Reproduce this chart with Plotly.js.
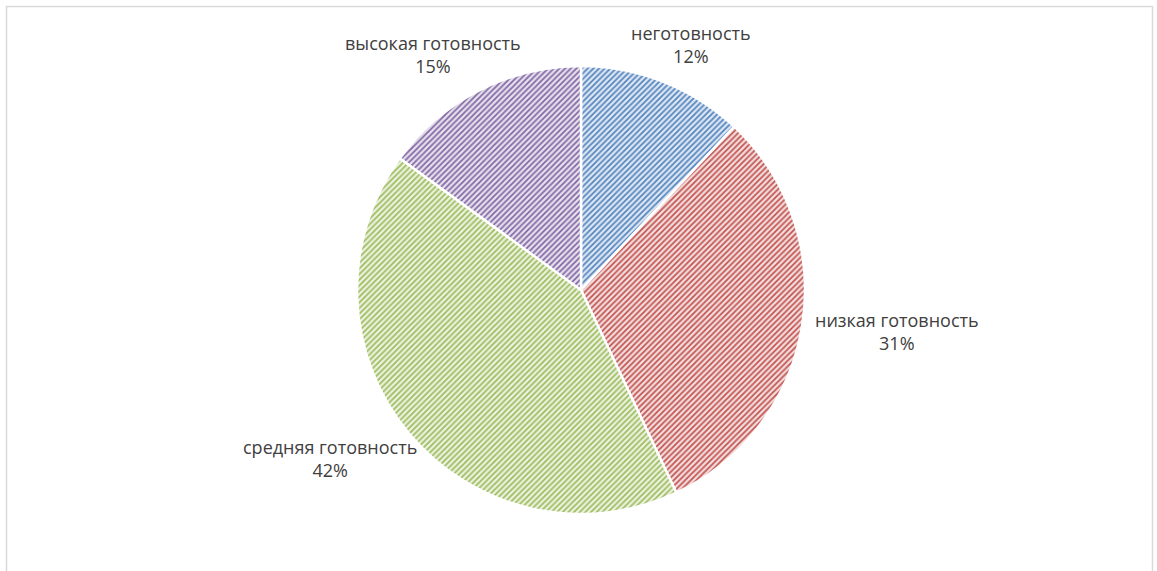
<!DOCTYPE html>
<html>
<head>
<meta charset="utf-8">
<script src="https://cdn.plot.ly/plotly-3.0.1.min.js"></script>
<style>html,body{margin:0;padding:0;background:#fff;}#chart{width:1157px;height:571px;}</style>
</head>
<body>
<div id="chart"></div>
<script>
const categories = ["неготовность", "низкая готовность", "средняя готовность", "высокая готовность"];
const values = [12, 31, 42, 15];
const bgColors = ["#dce6f2", "#f2dcdb", "#ebf1de", "#e4dfec"];
const fgColors = ["#4f81bd", "#c0504d", "#9bbb59", "#8064a2"];

const W = 1157, H = 571;
const cx = 581, cy = 290, r = 224;
const FONT = "Open Sans, Liberation Sans, sans-serif";
const FSIZE = 18;

const trace = {
  type: "pie",
  labels: categories,
  values: values,
  sort: false,
  direction: "clockwise",
  rotation: 0,
  textinfo: "none",
  textposition: "none",
  automargin: false,
  showlegend: false,
  hoverinfo: "label+percent",
  marker: {
    colors: bgColors,
    line: {color: "#ffffff", width: 2.5},
    pattern: {shape: "/", fgcolor: fgColors, bgcolor: bgColors, size: 4, solidity: 0.4, fillmode: "replace"}
  },
  domain: {
    x: [(cx - r) / W, (cx + r) / W],
    y: [(H - cy - r) / H, (H - cy + r) / H]
  }
};

// Data labels placed outside each slice at its mid-angle (Excel "best fit" style)
const canvas = document.createElement("canvas");
const ctx = canvas.getContext("2d");
ctx.font = FSIZE + "px 'Open Sans'";
const total = values.reduce((a, b) => a + b, 0);
let cum = 0;
const annotations = categories.map((cat, i) => {
  const mid = (cum + values[i] / 2) / total;
  cum += values[i];
  const th = 2 * Math.PI * mid;
  const s = Math.sin(th), c = Math.cos(th);
  const pct = Math.round(values[i] / total * 100) + "%";
  const hw = Math.max(ctx.measureText(cat).width, ctx.measureText(pct).width) / 2;
  const hh = 26;
  const rr = r + 14;
  const px = cx + rr * s + hw * s;
  const py = cy - rr * c - hh * c;
  return {
    xref: "paper", yref: "paper",
    x: px / W, y: 1 - py / H,
    xanchor: "center", yanchor: "middle",
    text: cat + "<br>" + pct,
    showarrow: false, align: "center",
    font: {family: FONT, size: FSIZE, color: "#404040"}
  };
});

const layout = {
  width: W, height: H,
  margin: {l: 0, r: 0, t: 0, b: 0},
  paper_bgcolor: "#ffffff",
  font: {family: FONT, color: "#404040"},
  annotations: annotations,
  shapes: [{
    type: "rect", xref: "paper", yref: "paper",
    x0: 6.5 / W, x1: 1152.5 / W, y0: -0.05, y1: (H - 6.5) / H,
    line: {color: "#d9d9d9", width: 1.5}, fillcolor: "rgba(0,0,0,0)"
  }]
};

Plotly.newPlot("chart", [trace], layout, {displayModeBar: false, staticPlot: true});
</script>
</body>
</html>
